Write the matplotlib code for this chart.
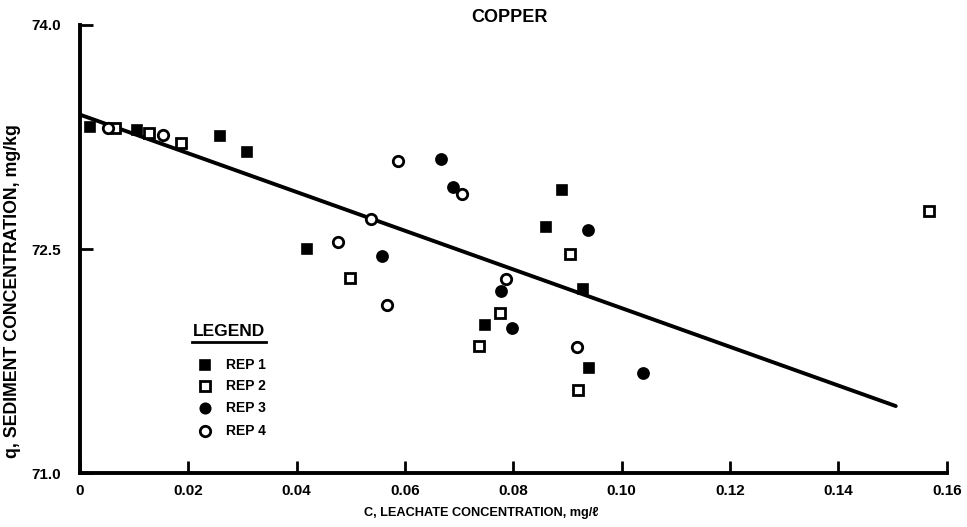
import matplotlib
matplotlib.use("Agg")
import matplotlib.pyplot as plt
import numpy as np

plt.rcParams['font.family'] = ['Liberation Sans', 'DejaVu Sans']
plt.rcParams['font.weight'] = 'bold'

# REP 1 (filled squares)
rep1_x = [0.0018, 0.0105, 0.0258, 0.0308, 0.0419, 0.0860, 0.0890, 0.0928, 0.0748, 0.0940]
rep1_y = [73.32, 73.30, 73.26, 73.15, 72.50, 72.645, 72.895, 72.23, 71.995, 71.705]
# REP 2 (open squares)
rep2_x = [0.0065, 0.0127, 0.0187, 0.0499, 0.0905, 0.0776, 0.0737, 0.0920, 0.1568]
rep2_y = [73.31, 73.275, 73.21, 72.31, 72.47, 72.075, 71.85, 71.56, 72.755]
# REP 3 (filled circles)
rep3_x = [0.0667, 0.0688, 0.0558, 0.0938, 0.0777, 0.0798, 0.1039]
rep3_y = [73.10, 72.913, 72.453, 72.625, 72.218, 71.973, 71.674]
# REP 4 (open circles)
rep4_x = [0.0052, 0.0154, 0.0587, 0.0706, 0.0537, 0.0477, 0.0567, 0.0787, 0.0917]
rep4_y = [73.31, 73.263, 73.089, 72.868, 72.70, 72.545, 72.127, 72.30, 71.843]

# fitted line
fit_x = [0.0, 0.1506]
fit_y = [73.40, 71.45]

x_ticks = [0, 0.02, 0.04, 0.06, 0.08, 0.10, 0.12, 0.14, 0.16]
x_tick_labels = ['0', '0.02', '0.04', '0.06', '0.08', '0.10', '0.12', '0.14', '0.16']
y_ticks = [71.0, 72.5, 74.0]
y_tick_labels = ['71.0', '72.5', '74.0']

W, H = 967, 527
fig = plt.figure(figsize=(W/100, H/100), dpi=100)
X0, X1, Y0, Y1 = 80, 946.7, 473.3, 25
ax = fig.add_axes([X0/W, 1-Y0/H, (X1-X0)/W, (Y0-Y1)/H])

ax.plot(fit_x, fit_y, color='black', lw=2.8, solid_capstyle='round', zorder=2)

ms = 7.5
ax.plot(rep1_x, rep1_y, 's', ms=ms, mfc='black', mec='black', mew=1.2, ls='none', zorder=3)
ax.plot(rep2_x, rep2_y, 's', ms=ms, mfc='white', mec='black', mew=2.0, ls='none', zorder=3)
ax.plot(rep3_x, rep3_y, 'o', ms=ms+0.5, mfc='black', mec='black', mew=1.2, ls='none', zorder=3)
ax.plot(rep4_x, rep4_y, 'o', ms=ms, mfc='white', mec='black', mew=2.0, ls='none', zorder=3)

ax.set_xlim(0, 0.16)
ax.set_ylim(71.0, 74.0)
ax.set_xticks(x_ticks)
ax.set_xticklabels(x_tick_labels)
ax.set_yticks(y_ticks)
ax.set_yticklabels(y_tick_labels)
ax.tick_params(direction='in', length=9, width=2, labelsize=11, pad=8)
ax.tick_params(axis='y', pad=14)
for lab in ax.get_xticklabels() + ax.get_yticklabels():
    lab.set_fontweight('bold')

for s in ['top', 'right']:
    ax.spines[s].set_visible(False)
for s in ['left', 'bottom']:
    ax.spines[s].set_linewidth(2.8)

fig.text(481/W, 1-513/H, 'C, LEACHATE CONCENTRATION, mg/\u2113', ha='center', va='center',
         fontsize=9.2, fontweight='bold')
fig.text(13/W, 1-291/H, 'q, SEDIMENT CONCENTRATION, mg/kg', ha='center', va='center',
         rotation=90, fontsize=12.8, fontweight='bold')
fig.text(509/W, 1-18/H, 'COPPER', ha='center', va='center', fontsize=13, fontweight='bold')

# Legend drawn manually in axes coordinates
def ax_coords(px, py):
    return ((px-X0)/(X1-X0), (Y0-py)/(Y0-Y1))

lx, ly = ax_coords(229, 332)
ax.text(lx, ly, 'LEGEND', transform=ax.transAxes, ha='center', va='center', fontsize=12.5, fontweight='bold')
ul0 = ax_coords(192, 342)
ul1 = ax_coords(266, 342)
ax.plot([ul0[0], ul1[0]], [ul0[1], ul1[1]], transform=ax.transAxes, color='black', lw=2, clip_on=False)

labels = ['REP 1', 'REP 2', 'REP 3', 'REP 4']
styles = [('s', 'black', 1.2), ('s', 'white', 2.0), ('o', 'black', 1.2), ('o', 'white', 2.0)]
rows = [365, 386, 408, 431]
for lab, (mk, fc, mw), ry in zip(labels, styles, rows):
    mx, my = ax_coords(205, ry)
    ax.plot([mx], [my], mk, ms=ms, mfc=fc, mec='black', mew=mw, transform=ax.transAxes, clip_on=False)
    tx, ty = ax_coords(226, ry)
    ax.text(tx, ty, lab, transform=ax.transAxes, ha='left', va='center', fontsize=10, fontweight='bold')

fig.savefig('out.png', dpi=100, facecolor='white')
